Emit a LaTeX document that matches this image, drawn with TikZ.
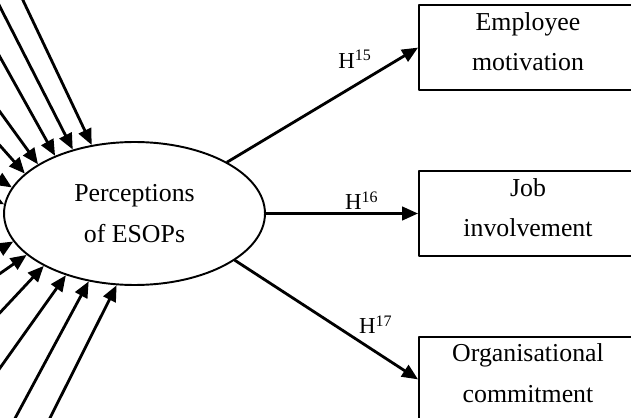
\documentclass[tikz,border=0pt]{standalone}
\usepackage{fontspec}
\setmainfont{Liberation Serif}
\usetikzlibrary{arrows.meta, shapes.geometric, positioning}
\tikzset{el/.style={line cap=round, line join=round},
  arr/.style={line width=1.6pt, -{Triangle[length=0.32cm, width=0.27cm]}},
  latent/.style={ellipse, draw, line width=1.1pt, minimum width=5.22cm, minimum height=2.86cm, inner sep=0pt, align=center, font=\fontsize{14.7}{23}\selectfont},
  outcome/.style={draw, line width=1.1pt, minimum width=4.36cm, minimum height=1.7cm, text depth=0.25cm, align=center, font=\fontsize{14.7}{23}\selectfont},
  hyp/.style={font=\fontsize{13}{15}\selectfont}}

\begin{document}
\begin{tikzpicture}[el, x=0.02cm, y=-0.02cm]
  \useasboundingbox (0,0) rectangle (631,418);
  \clip (0,0) rectangle (631,418);
  \node[latent] (perc) at (134.5,213.5) {Perceptions\\of ESOPs};
  \node[outcome] (job) at (528,213.5) {Job\\involvement};
  \node[outcome, above=1.58cm of job] (motiv) {Employee\\motivation};
  \node[outcome, below=1.58cm of job] (commit) {Organisational\\commitment};
  % paths out of the ellipse
  \draw[arr] (perc.29) -- node[hyp, pos=0.67, above=0.2cm] {H\textsuperscript{15}} (motiv.west);
  \draw[arr] (perc.east) -- node[hyp, pos=0.63, above, yshift=-2pt] {H\textsuperscript{16}} (job.west);
  \draw[arr] (perc.-25) -- node[hyp, pos=0.77, above=0.22cm] {H\textsuperscript{17}} (commit.west);
  % paths coming in from the left
  \foreach \n/\ux/\uy/\a in {1/20/-6/122, 2/-4/-1/134, 3/-5/48/144.5, 4/-5/105/153.5, 5/-5/140/160.5, 6/-6/176/168.6, 7/-6/199/176.3}{
    \coordinate (u\n) at (\ux,\uy);
    \draw[arr] (u\n) -- (perc.\a);}
  \foreach \n/\dx/\dy/\a in {1/-6/253/193.1, 2/-5/277/201.1, 3/-5/318/210, 4/-5/375/222.9, 5/12/424/236.2, 6/47/424/256.6}{
    \coordinate (d\n) at (\dx,\dy);
    \draw[arr] (d\n) -- (perc.\a);}
\end{tikzpicture}
\end{document}
